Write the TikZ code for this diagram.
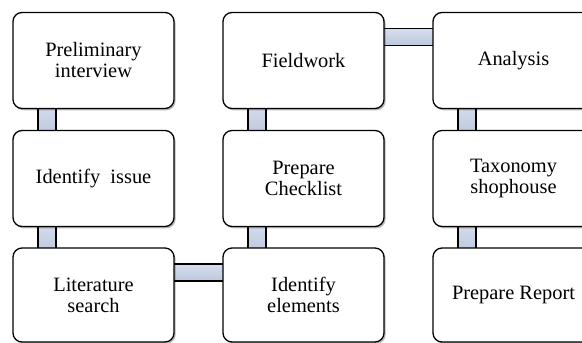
\documentclass[tikz,border=0pt]{standalone}
\usepackage{fontspec}
\setmainfont{Liberation Serif}
\usetikzlibrary{shadows}
\pgfdeclarelayer{background}
\pgfsetlayers{background,main}
\definecolor{connTop}{HTML}{D6DEEE}
\definecolor{connBot}{HTML}{BCC8DE}
\tikzset{
  stepbox/.style={draw=black, line width=1.3pt, fill=white, rounded corners=9pt,
    minimum width=161pt, minimum height=96pt, inner sep=2pt, outer sep=0pt,
    align=center, font=\fontsize{20.4}{21}\selectfont,
    drop shadow={shadow xshift=1.6pt, shadow yshift=-1.8pt, opacity=0.28, fill=black}},
  connfill/.style={top color=connTop, bottom color=connBot, draw=none},
  connline/.style={draw=black, line width=1.3pt},
}
\begin{document}
\begin{tikzpicture}[x=1pt,y=-1pt]
\useasboundingbox (0,0) rectangle (582,343);
\clip (0,0) rectangle (582,343);
% column 1
\node[stepbox] (pi) at (93.5,60.5) {Preliminary\\interview};
\node[stepbox] (ii) at (93.5,178.5) {Identify~~issue};
\node[stepbox, minimum height=94pt] (ls) at (93.5,295) {Literature\\search};
% column 2
\node[stepbox] (fw) at (303.5,60.5) {Fieldwork};
\node[stepbox] (pc) at (303.5,178.5) {Prepare\\Checklist};
\node[stepbox, minimum height=94pt] (ie) at (303.5,295) {Identify\\elements};
% column 3
\node[stepbox] (an) at (513.5,60.5) {Analysis};
\node[stepbox] (ts) at (513.5,178.5) {Taxonomy\\shophouse};
\node[stepbox, minimum height=94pt] (pr) at (513.5,295) {Prepare Report};
\begin{pgfonlayer}{background}
% vertical connectors
\foreach \a/\b in {pi/ii, ii/ls, fw/pc, pc/ie, an/ts, ts/pr}{
  \fill[connfill] ([xshift=25pt,yshift=3pt]\a.south west) rectangle ([xshift=43pt,yshift=-3pt]\b.north west);
  \draw[connline] ([xshift=25pt,yshift=3pt]\a.south west) -- ([xshift=25pt,yshift=-3pt]\b.north west);
  \draw[connline] ([xshift=43pt,yshift=3pt]\a.south west) -- ([xshift=43pt,yshift=-3pt]\b.north west);
}
% horizontal connectors
\foreach \a/\b in {fw/an, ls/ie}{
  \fill[connfill] ([xshift=-3pt,yshift=-16pt]\a.north east) rectangle ([xshift=3pt,yshift=-33pt]\b.north west);
  \draw[connline] ([xshift=-3pt,yshift=-16pt]\a.north east) -- ([xshift=3pt,yshift=-16pt]\b.north west);
  \draw[connline] ([xshift=-3pt,yshift=-33pt]\a.north east) -- ([xshift=3pt,yshift=-33pt]\b.north west);
}
\end{pgfonlayer}
\end{tikzpicture}
\end{document}
